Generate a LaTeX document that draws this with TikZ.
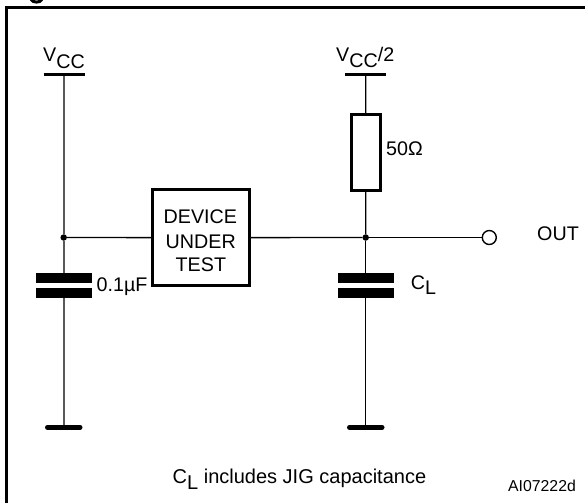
\documentclass[tikz,border=0pt]{standalone}
\usepackage{fontspec}
\setmainfont{Liberation Sans}
\newcommand{\lowered}[2]{\raisebox{-#1pt}{#2}}
\tikzset{
  lbl/.style={inner sep=0pt,anchor=base west,font=\fontsize{19.7}{22}\selectfont,text=black},
  notelbl/.style={inner sep=0pt,anchor=base west,font=\fontsize{20}{22}\selectfont,text=black},
  smalllbl/.style={inner sep=0pt,anchor=base west,font=\fontsize{15.8}{18}\selectfont,text=black},
  wire/.style={line width=1.4pt,draw=black},
  graywire/.style={line width=1.8pt,draw=black!65},
  heavy/.style={line width=3pt,draw=black},
  railbar/.style={line width=3.2pt,draw=black},
  groundbar/.style={line width=5pt,line cap=round,draw=black},
  plate/.style={fill=black,draw=none,minimum width=56pt,minimum height=10pt,inner sep=0pt},
  dot/.style={circle,fill=black,draw=none,minimum size=6.5pt,inner sep=0pt},
}
\begin{document}
\begin{tikzpicture}[x=1pt,y=-1pt]
\useasboundingbox (0,0) rectangle (585,503);
% frame
\draw[line width=3pt,draw=black] (6,503) -- (6,8) -- (585,8);
\draw[line width=3pt,draw=black] (31,-0.6) .. controls (33,3) and (40,3) .. (42,-0.6);
% rails and grounds
\coordinate (railL1) at (43.5,74.3); \coordinate (railL2) at (84.5,74.3);
\coordinate (railLm) at (63.7,74.3);
\coordinate (railR1) at (345,74.3); \coordinate (railR2) at (386,74.3);
\coordinate (railRm) at (365.7,74.3);
\coordinate (gndL1) at (47.5,427.3); \coordinate (gndL2) at (80,427.3);
\coordinate (gndLm) at (63.7,427.3);
\coordinate (gndR1) at (349.5,427.3); \coordinate (gndR2) at (382,427.3);
\coordinate (gndRm) at (365.7,427.3);
\node[dot] (jL) at (63.7,237.5) {};
\node[dot] (jR) at (365.7,237.5) {};
\node[draw,heavy,fill=white,minimum width=97pt,minimum height=96pt,inner sep=0pt,outer sep=0pt] (dut) at (200.5,237.6) {};
\node[draw,heavy,fill=white,minimum width=28.5pt,minimum height=76pt,inner sep=0pt,outer sep=0pt] (res) at (365.8,152) {};
\node[circle,draw=black,line width=1.4pt,fill=white,minimum size=14pt,inner sep=0pt] (out) at (489.3,237.5) {};
\node[plate] (cL1) at (63.7,278) {};
\node[plate] (cL2) at (63.7,293) {};
\node[plate] (cR1) at (365.7,278) {};
\node[plate] (cR2) at (365.7,293) {};
% wires
\draw[graywire] (railLm) -- (jL);
\draw[graywire] (jL) -- (cL1);
\draw[graywire] (cL2) -- (gndLm);
\draw[wire] (jL) -- (dut);
\draw[wire] (dut) -- (jR);
\draw[wire] (jR) -- (out);
\draw[wire] (railRm) -- (res);
\draw[wire] (res) -- (jR);
\draw[wire] (jR) -- (cR1);
\draw[wire] (cR2) -- (gndRm);
\draw[railbar] (railL1) -- (railL2);
\draw[railbar] (railR1) -- (railR2);
\draw[groundbar] (gndL1) -- (gndL2);
\draw[groundbar] (gndR1) -- (gndR2);
% labels
\node[lbl] (vcc) at (43,61) {V\lowered{7}{CC}};
\node[lbl] (vcch) at (336,61.5) {V\lowered{5.7}{CC}/2};
\node[lbl] (tdev) at (163.5,223) {DEVICE};
\node[lbl] (tund) at (165.5,248) {UNDER};
\node[lbl] (ttest) at (175.5,271.7) {TEST};
\node[lbl] (cap) at (96.5,291.7) {0.1µF};
\node[lbl] (ohm) at (386,155) {50Ω};
\node[lbl] (tout) at (537,240.7) {OUT};
\node[lbl] (tcl) at (410.7,289.3) {C\lowered{4.7}{L}};
\node[notelbl] (note) at (172.5,483) {C\lowered{6}{L} includes JIG capacitance};
\node[smalllbl] (ref) at (508,491.5) {AI07222d};
\end{tikzpicture}
\end{document}
